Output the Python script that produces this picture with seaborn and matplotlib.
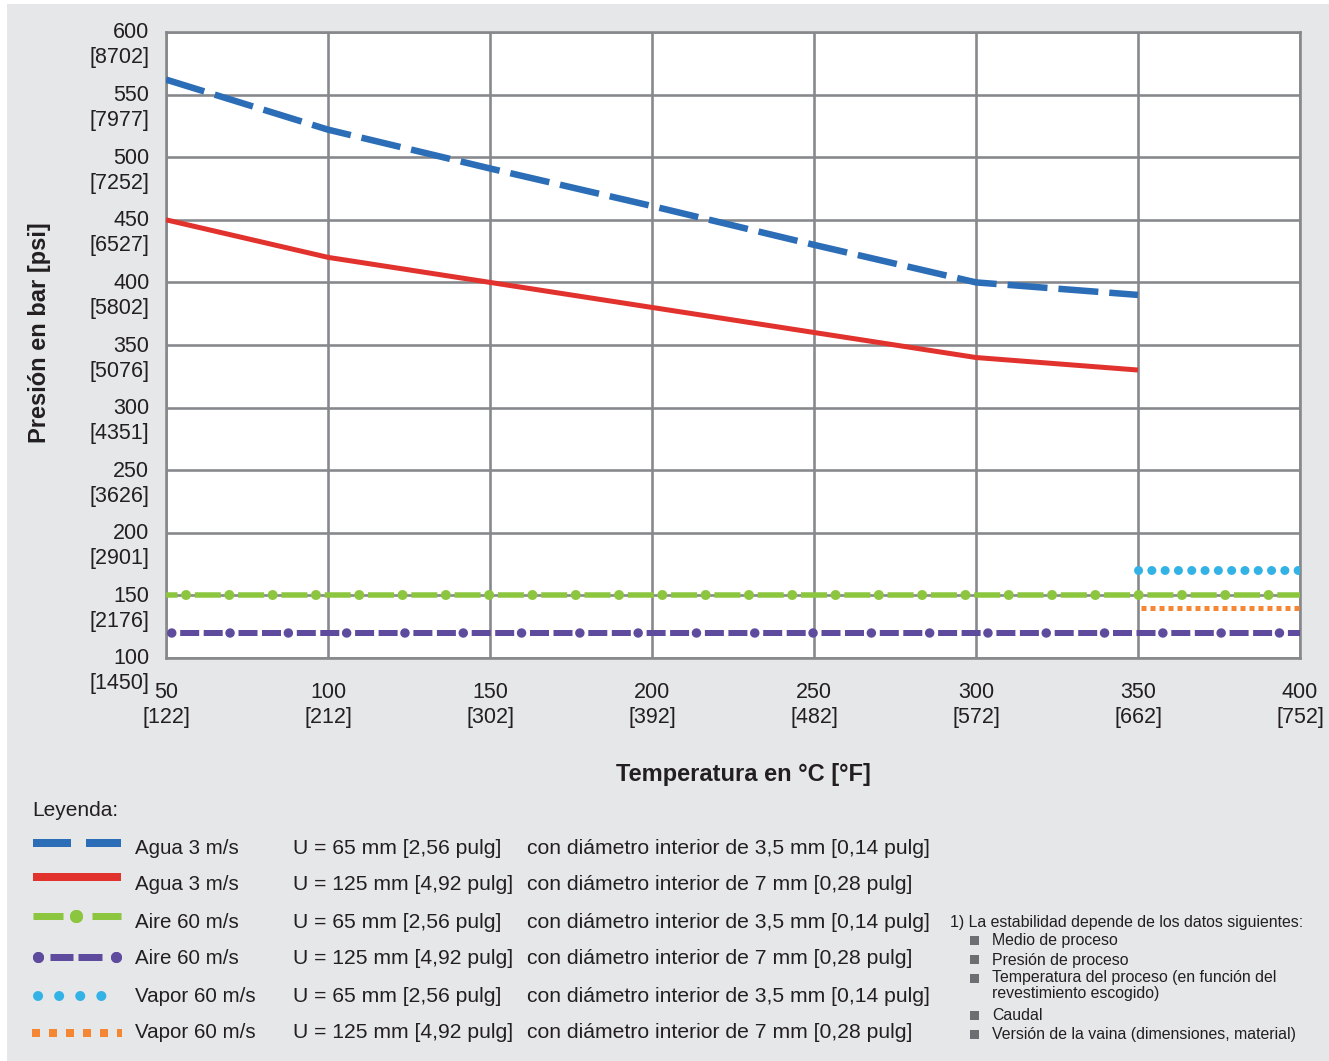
import matplotlib
matplotlib.use("Agg")
import matplotlib.pyplot as plt
import seaborn as sns
import numpy as np
import pandas as pd
from matplotlib.lines import Line2D
from matplotlib.patches import Rectangle
from matplotlib.transforms import ScaledTranslation

# ---------------- data ----------------
temp_c = [50, 100, 150, 200, 250, 300, 350]
agua_u65 = [562, 522, 491, 461, 430, 400, 390]
agua_u125 = [450, 420, 400, 380, 360, 340, 330]
aire_x = [50, 400]
aire_u65 = [150, 150]
aire_u125 = [120, 120]
vapor_u65_x = [350, 400]
vapor_u65 = [170, 170]
vapor_u125_x = [351, 400]
vapor_u125 = [140, 140]

x_ticks = [50, 100, 150, 200, 250, 300, 350, 400]
x_ticks_f = [122, 212, 302, 392, 482, 572, 662, 752]
y_ticks = [100, 150, 200, 250, 300, 350, 400, 450, 500, 550, 600]
y_ticks_psi = [1450, 2176, 2901, 3626, 4351, 5076, 5802, 6527, 7252, 7977, 8702]

leg_medium = ["Agua 3 m/s", "Agua 3 m/s", "Aire 60 m/s", "Aire 60 m/s",
              "Vapor 60 m/s", "Vapor 60 m/s"]
leg_u = ["U = 65 mm [2,56 pulg]", "U = 125 mm [4,92 pulg]", "U = 65 mm [2,56 pulg]",
         "U = 125 mm [4,92 pulg]", "U = 65 mm [2,56 pulg]", "U = 125 mm [4,92 pulg]"]
leg_d = ["con diámetro interior de 3,5 mm [0,14 pulg]",
         "con diámetro interior de 7 mm [0,28 pulg]",
         "con diámetro interior de 3,5 mm [0,14 pulg]",
         "con diámetro interior de 7 mm [0,28 pulg]",
         "con diámetro interior de 3,5 mm [0,14 pulg]",
         "con diámetro interior de 7 mm [0,28 pulg]"]
note_title = "1) La estabilidad depende de los datos siguientes:"
note_items = ["Medio de proceso", "Presión de proceso",
              "Temperatura del proceso (en función del\nrevestimiento escogido)",
              "Caudal", "Versión de la vaina (dimensiones, material)"]

# ---------------- style ----------------
sns.set_theme(style="white")
plt.rcParams["font.family"] = ["Liberation Sans", "DejaVu Sans"]
plt.rcParams["lines.scale_dashes"] = False

W, H = 1329, 1061
P = 0.72  # px -> pt at dpi 100

def fx(px):
    return px / W

def fy(py):
    return 1 - py / H

BLUE = "#2b6db6"
RED = "#e2322e"
GREEN = "#8cc63e"
PURPLE = "#5f4b9e"
CYAN = "#33b2e6"
ORANGE = "#f58634"
GRID = "#87888b"
TXT = "#231f20"

fig = plt.figure(figsize=(W / 100, H / 100), dpi=100, facecolor="white")
fig.patches.append(Rectangle((fx(7), 0), 1 - fx(7), fy(4), transform=fig.transFigure,
                             facecolor="#e6e7e9", edgecolor="none", zorder=-10))

ax = fig.add_axes([fx(166), fy(658), fx(1300) - fx(166), fy(32) - fy(658)])
ax.set_facecolor("white")

# ---------------- lines ----------------
def style_last(lw_px, dash_px=None, offset_px=0, cap="butt"):
    ln = ax.lines[-1]
    ln.set_linewidth(lw_px * P)
    if dash_px is not None:
        ln.set_linestyle((offset_px * P, tuple(d * P for d in dash_px)))
    ln.set_dash_capstyle(cap)
    ln.set_solid_capstyle("butt")
    ln.set_zorder(3)
    return ln

# Aire U=125 (purple dash-dash-dot)
sns.lineplot(x=aire_x, y=aire_u125, ax=ax, color=PURPLE)
style_last(6, (19, 4.5, 19, 15.8), offset_px=44.1)
sns.lineplot(x=aire_x, y=aire_u125, ax=ax, color=PURPLE)
style_last(9.5, (0.1, 58.2), offset_px=52.6, cap="round")

# Aire U=65 (green dash-dot)
sns.lineplot(x=aire_x, y=aire_u65, ax=ax, color=GREEN)
style_last(5.5, (26, 17.3), offset_px=14.5)
sns.lineplot(x=aire_x, y=aire_u65, ax=ax, color=GREEN)
style_last(10, (0.1, 43.2), offset_px=23.3, cap="round")

# Vapor
sns.lineplot(x=vapor_u65_x, y=vapor_u65, ax=ax, color=CYAN)
style_last(9, (0.1, 13.2), offset_px=0, cap="round")
sns.lineplot(x=vapor_u125_x, y=vapor_u125, ax=ax, color=ORANGE)
style_last(5, (5, 4), offset_px=0)

# Agua
sns.lineplot(x=temp_c, y=agua_u125, ax=ax, color=RED)
style_last(5)
sns.lineplot(x=temp_c, y=agua_u65, ax=ax, color=BLUE)
style_last(6.5, (40, 11), offset_px=0)

# ---------------- axes ----------------
ax.set_xlim(50, 400)
ax.set_ylim(100, 600)
ax.set_xticks(x_ticks)
ax.set_xticklabels([f"{c}\n[{f}]" for c, f in zip(x_ticks, x_ticks_f)],
                   fontsize=15.5, color=TXT, linespacing=1.3)
ax.set_yticks(y_ticks)
ax.set_yticklabels([f"{b}\n[{p}]" for b, p in zip(y_ticks, y_ticks_psi)],
                   fontsize=15.5, color=TXT, linespacing=1.25, va="center_baseline")
ax.tick_params(axis="both", direction="out", length=7, width=2 * P, color=GRID)
ax.tick_params(axis="y", pad=5)
ax.tick_params(axis="x", pad=10)
ax.grid(True, color=GRID, linewidth=2.6 * P, zorder=0)
ax.set_axisbelow(True)
for s in ax.spines.values():
    s.set_color(GRID)
    s.set_linewidth(2.6 * P)
ax.set_xlabel("")
ax.set_ylabel("")
shift = ScaledTranslation(0, -9 / 100, fig.dpi_scale_trans)
for t in ax.yaxis.get_major_ticks():
    t.label1.set_transform(t.label1.get_transform() + shift)

fig.text(fx(40), fy(333), "Presión en bar [psi]", rotation=90, ha="center", va="center",
         fontsize=17, fontweight="bold", color=TXT)
fig.text(fx(743), fy(775), "Temperatura en °C [°F]", ha="center", va="center",
         fontsize=17, fontweight="bold", color=TXT)

# ---------------- legend (custom layout) ----------------
fig.text(fx(32), fy(810), "Leyenda:", ha="left", va="center", fontsize=15, color=TXT)
row_y = [848, 885, 922, 959, 996, 1033]
sw_y = [843, 877, 916, 957, 996, 1033]
tf = fig.transFigure

def sw(x0, x1, y, color, lw_px, dash=None, cap="butt", **kw):
    ln = Line2D([fx(x0), fx(x1)], [fy(y), fy(y)], transform=tf, color=color,
                linewidth=lw_px * P, solid_capstyle=cap, dash_capstyle=cap, **kw)
    if dash is not None:
        ln.set_linestyle((0, tuple(d * P for d in dash)))
    fig.add_artist(ln)

# blue
sw(33, 121, sw_y[0], BLUE, 8, dash=(38, 15))
# red
sw(33, 121, sw_y[1], RED, 8)
# green
sw(33, 121, sw_y[2], GREEN, 7, dash=(30, 29))
sw(76, 76, sw_y[2], GREEN, 0.1, marker="o", markersize=13 * P, markeredgewidth=0)
# purple
sw(50, 102, sw_y[3], PURPLE, 7, dash=(23, 5, 24, 50))
sw(38, 38, sw_y[3], PURPLE, 0.1, marker="o", markersize=11 * P, markeredgewidth=0)
sw(116, 116, sw_y[3], PURPLE, 0.1, marker="o", markersize=11 * P, markeredgewidth=0)
# cyan
sw(38, 122, sw_y[4], CYAN, 10, dash=(0.1, 21), cap="round")
# orange
sw(32, 122, sw_y[5], ORANGE, 8, dash=(8, 9))

for i in range(6):
    fig.text(fx(135), fy(row_y[i]), leg_medium[i], ha="left", va="center",
             fontsize=14.8, color=TXT)
    fig.text(fx(293), fy(row_y[i]), leg_u[i], ha="left", va="center",
             fontsize=15.2, color=TXT)
    fig.text(fx(527), fy(row_y[i]), leg_d[i], ha="left", va="center",
             fontsize=15.2, color=TXT)

# ---------------- footnote ----------------
fig.text(fx(950), fy(923), note_title, ha="left", va="center", fontsize=11.4, color=TXT)
note_y = [941, 960, 979, 1016, 1035]
for yy, item in zip(note_y, note_items):
    fig.patches.append(Rectangle((fx(970), fy(yy + 4)), fx(979) - fx(970),
                                 fy(yy - 5) - fy(yy + 4),
                                 transform=tf, facecolor="#6d6e71", edgecolor="none"))
    if "\n" in item:
        fig.text(fx(992), fy(yy - 9), item, ha="left", va="top", fontsize=11.4,
                 color=TXT, linespacing=1.1)
    else:
        fig.text(fx(992), fy(yy), item, ha="left", va="center", fontsize=11.4,
                 color=TXT)

fig.savefig("out.png", dpi=100, facecolor=fig.get_facecolor())
